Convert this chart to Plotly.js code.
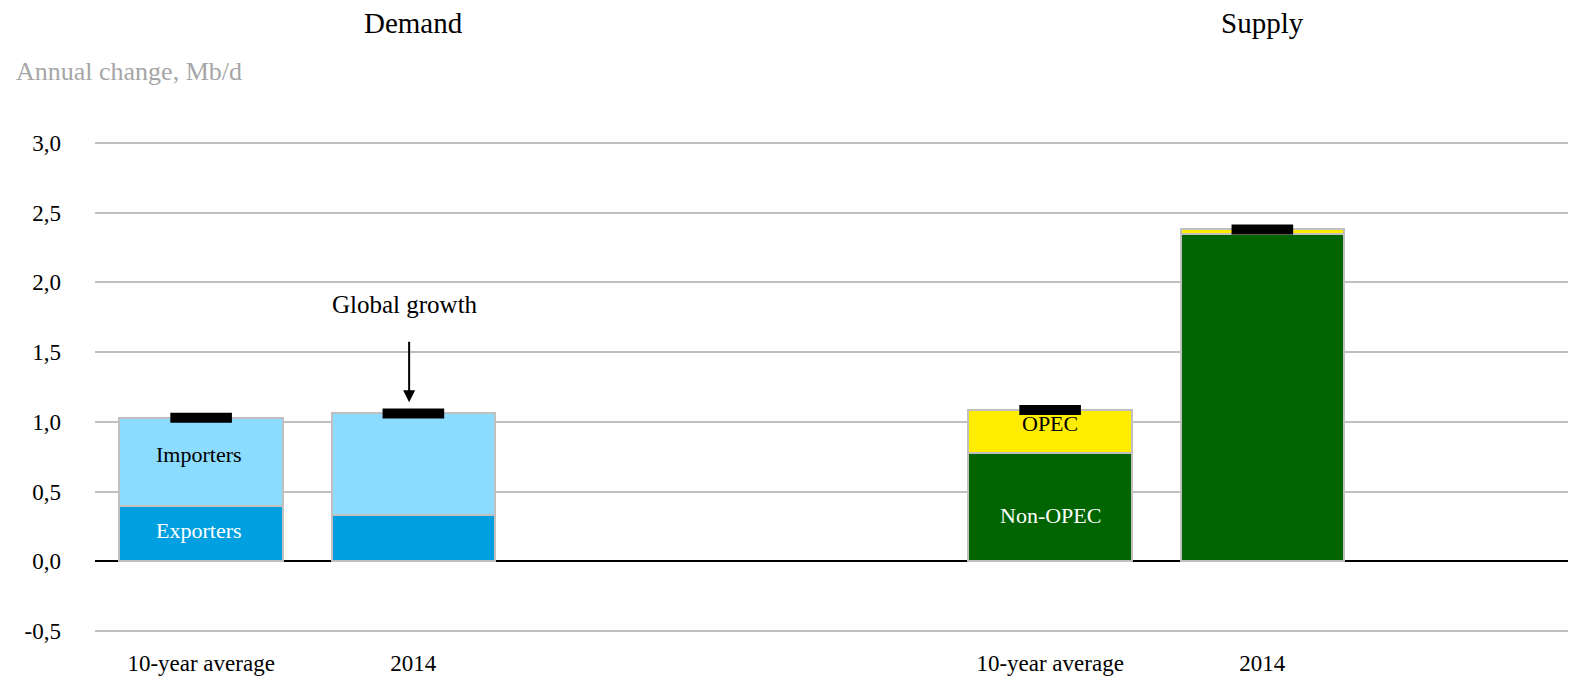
<!DOCTYPE html>
<html><head><meta charset="utf-8">
<script src="https://cdn.plot.ly/plotly-3.0.1.min.js"></script>
<style>html,body{margin:0;padding:0;background:#fff}#chart{width:1570px;height:682px}</style>
</head><body><div id="chart"></div>
<script>
// Categories (x positions 0,1 = Demand; 4,5 = Supply)
const categories = ["10-year average", "2014", "10-year average", "2014"];
const demandX = [0, 1];
const supplyX = [4, 5];
const exporters = [0.40, 0.33];
const importers = [0.63, 0.73];
const nonOpec = [0.775, 2.35];
const opec = [0.31, 0.035];
const globalDemand = [1.03, 1.06];
const globalSupply = [1.085, 2.38];
const yTickVals = [-0.5, 0, 0.5, 1.0, 1.5, 2.0, 2.5, 3.0];
const yTickText = ["-0,5", "0,0", "0,5", "1,0", "1,5", "2,0", "2,5", "3,0"];

const FONT = "Liberation Serif, Times New Roman, serif";
const border = {color: "#C0C0C0", width: 2};
const bw = 0.77;

const traces = [
  {type: "bar", x: demandX, y: exporters, name: "Exporters", width: bw, marker: {color: "#009FDF", line: border}},
  {type: "bar", x: demandX, y: importers, name: "Importers", width: bw, marker: {color: "#8CDCFF", line: border}},
  {type: "bar", x: supplyX, y: nonOpec, name: "Non-OPEC", width: bw, marker: {color: "#006400", line: border}},
  {type: "bar", x: supplyX, y: opec, name: "OPEC", width: bw, marker: {color: "#FFED00", line: border}},
  {type: "scatter", mode: "markers", x: demandX.concat(supplyX), y: globalDemand.concat(globalSupply), name: "Global growth",
   marker: {symbol: "line-ew-open", size: 44, color: "#000", line: {color: "#000", width: 10}}}
];

// plot area: y=3.0 at 143px, y=-0.5 at 631px (139.4 px per unit)
const layout = {
  width: 1570, height: 682,
  margin: {l: 95, r: 2, t: 141, b: 49},
  barmode: "stack",
  showlegend: false,
  plot_bgcolor: "#fff", paper_bgcolor: "#fff",
  font: {family: FONT, size: 23, color: "#000"},
  xaxis: {
    range: [-0.5, 6.44], tickmode: "array",
    tickvals: demandX.concat(supplyX), ticktext: categories,
    showgrid: false, zeroline: false, showline: false, ticks: "",
    ticklabelstandoff: 14,
    tickfont: {family: FONT, size: 23, color: "#000"}
  },
  yaxis: {
    range: [-0.5 - 2/139.4, 3.0 + 2/139.4], tickmode: "array", tickvals: yTickVals, ticktext: yTickText,
    showgrid: true, gridcolor: "#C0C0C0", gridwidth: 2,
    zeroline: true, zerolinecolor: "#000", zerolinewidth: 2,
    showline: false, ticks: "", ticklabelstandoff: 33,
    tickfont: {family: FONT, size: 23, color: "#000"}
  },
  annotations: [
    {xref: "paper", yref: "paper", x: -0.055, y: 1.142, xanchor: "left", yanchor: "middle", showarrow: false,
     text: "Annual change, Mb/d", font: {family: FONT, size: 26, color: "#A6A6A6"}},
    {xref: "x", yref: "paper", x: 1, y: 1.24, showarrow: false, xanchor: "center", yanchor: "middle",
     text: "Demand", font: {family: FONT, size: 29, color: "#000"}},
    {xref: "x", yref: "paper", x: 5, y: 1.24, showarrow: false, xanchor: "center", yanchor: "middle",
     text: "Supply", font: {family: FONT, size: 29, color: "#000"}},
    {xref: "x", yref: "y", x: -0.01, y: exporters[0] / 2 + 0.02, showarrow: false,
     text: "Exporters", font: {family: FONT, size: 22, color: "#fff"}},
    {xref: "x", yref: "y", x: -0.01, y: exporters[0] + importers[0] / 2 + 0.05, showarrow: false,
     text: "Importers", font: {family: FONT, size: 22, color: "#000"}},
    {xref: "x", yref: "y", x: 4, y: 0.33, showarrow: false,
     text: "Non-OPEC", font: {family: FONT, size: 22, color: "#fff"}},
    {xref: "x", yref: "y", x: 4, y: 0.99, showarrow: false,
     text: "OPEC", font: {family: FONT, size: 22, color: "#000"}},
    {xref: "x", yref: "y", x: 0.98, y: 1.14, ax: 0, ay: -62, showarrow: true, arrowhead: 2, arrowsize: 1.2, arrowwidth: 2, arrowcolor: "#000",
     text: "", standoff: 0},
    {xref: "x", yref: "y", x: 0.96, y: 1.84, showarrow: false,
     text: "Global growth", font: {family: FONT, size: 25, color: "#000"}}
  ]
};

Plotly.newPlot("chart", traces, layout, {displayModeBar: false, staticPlot: true});
</script></body></html>
